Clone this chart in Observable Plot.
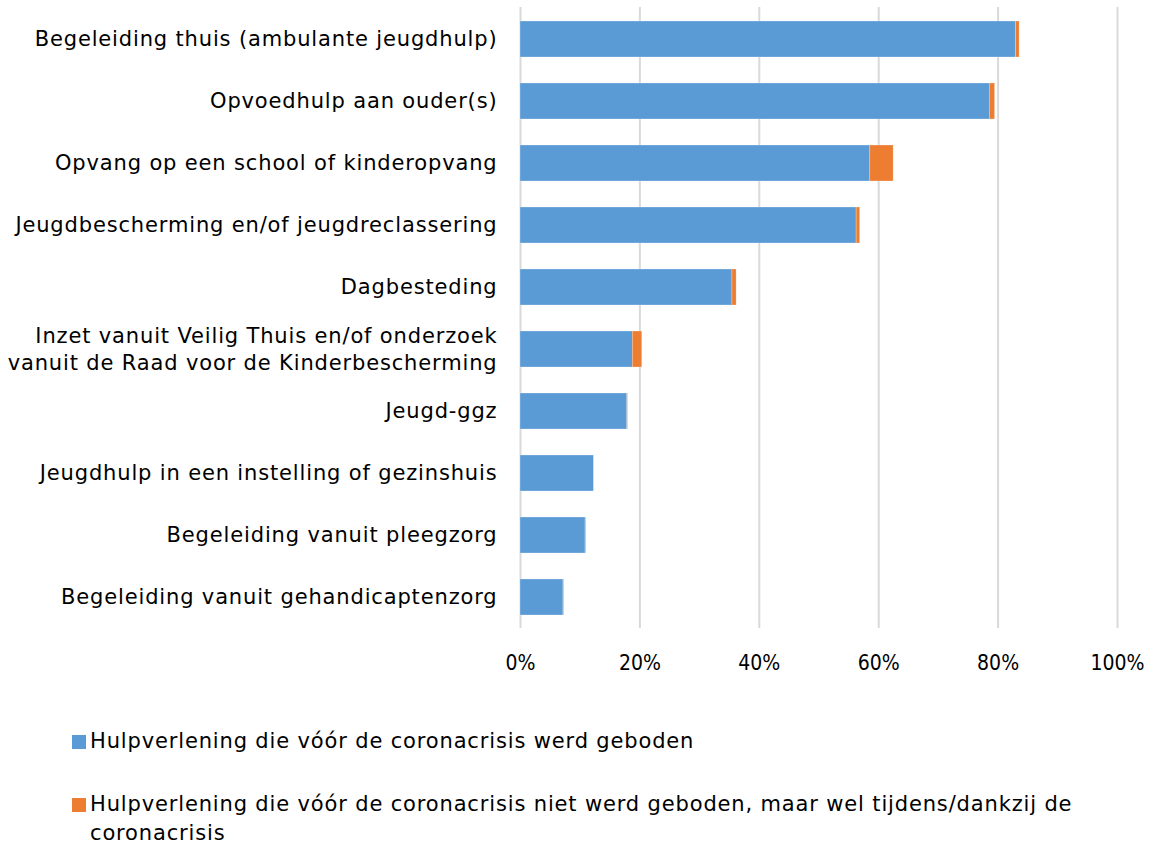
<!DOCTYPE html>
<html>
<head>
<meta charset="utf-8">
<script src="https://cdn.jsdelivr.net/npm/d3@7"></script>
<script src="https://cdn.jsdelivr.net/npm/@observablehq/plot@0.6"></script>
<style>
  body { margin: 0; background: #fff; font-family: "DejaVu Sans", sans-serif; }
  #wrap { position: relative; width: 1153px; height: 849px; }
  .legend { position: absolute; left: 72px; width: 1030px; font-size: 21px; letter-spacing: 0.85px; color: #000; line-height: 29px; }
  .legend .sw { display: inline-block; width: 14px; height: 14px; margin-right: 4px; vertical-align: -1px; }
  #chart svg g[aria-label="y-axis tick label"] text { letter-spacing: 0.85px; }
</style>
</head>
<body>
<div id="wrap">
  <div id="chart"></div>
  <div class="legend" style="top:727px"><span class="sw" style="background:#5B9BD5"></span>Hulpverlening die vóór de coronacrisis werd geboden</div>
  <div class="legend" style="top:790px; padding-left:18px; text-indent:-18px"><span class="sw" style="background:#ED7D31"></span>Hulpverlening die vóór de coronacrisis niet werd geboden, maar wel tijdens/dankzij de coronacrisis</div>
</div>
<script>
const categories = [
  "Begeleiding thuis (ambulante jeugdhulp)",
  "Opvoedhulp aan ouder(s)",
  "Opvang op een school of kinderopvang",
  "Jeugdbescherming en/of jeugdreclassering",
  "Dagbesteding",
  "Inzet vanuit Veilig Thuis en/of onderzoek\nvanuit de Raad voor de Kinderbescherming",
  "Jeugd-ggz",
  "Jeugdhulp in een instelling of gezinshuis",
  "Begeleiding vanuit pleegzorg",
  "Begeleiding vanuit gehandicaptenzorg"
];
const seriesNames = [
  "Hulpverlening die vóór de coronacrisis werd geboden",
  "Hulpverlening die vóór de coronacrisis niet werd geboden, maar wel tijdens/dankzij de coronacrisis"
];
const before = [83.0, 78.6, 58.6, 56.3, 35.5, 18.8, 17.9, 12.3, 10.9, 7.2];
const during = [0.6, 0.9, 3.9, 0.6, 0.7, 1.6, 0.1, 0.0, 0.1, 0.1];
const xTicks = [0, 20, 40, 60, 80, 100];
const colors = ["#5B9BD5", "#ED7D31"];

const data = [];
categories.forEach((c, i) => {
  data.push({cat: c, series: seriesNames[0], value: before[i]});
  data.push({cat: c, series: seriesNames[1], value: during[i]});
});

const chart = Plot.plot({
  width: 1153,
  height: 700,
  marginLeft: 520,
  marginRight: 36,
  marginTop: 7,
  marginBottom: 72,
  style: {fontFamily: "DejaVu Sans, sans-serif", fontSize: "21px", color: "#000", background: "#fff"},
  x: {domain: [0, 100], ticks: xTicks, tickFormat: d => d + "%", label: null},
  y: {domain: categories, paddingInner: 0.42, paddingOuter: 0.21, label: null},
  color: {domain: seriesNames, range: colors},
  marks: [
    Plot.gridX(xTicks, {stroke: "#d9d9d9", strokeOpacity: 1, strokeWidth: 2}),
    Plot.barX(data, Plot.stackX({x: "value", y: "cat", fill: "series", order: seriesNames, stroke: "#fff", strokeOpacity: 0.5, strokeWidth: 0.5})),
    Plot.axisX(xTicks, {tickSize: 0, tickPadding: 27, tickFormat: d => d + "%", fontSize: 21, fontFamily: "DejaVu Sans Condensed, Liberation Sans, sans-serif", label: null}),
    Plot.axisY({tickSize: 0, tickPadding: 23, fontSize: 21, lineHeight: 1.3, dy: -2, label: null})
  ]
});
document.getElementById("chart").appendChild(chart);
</script>
</body>
</html>
